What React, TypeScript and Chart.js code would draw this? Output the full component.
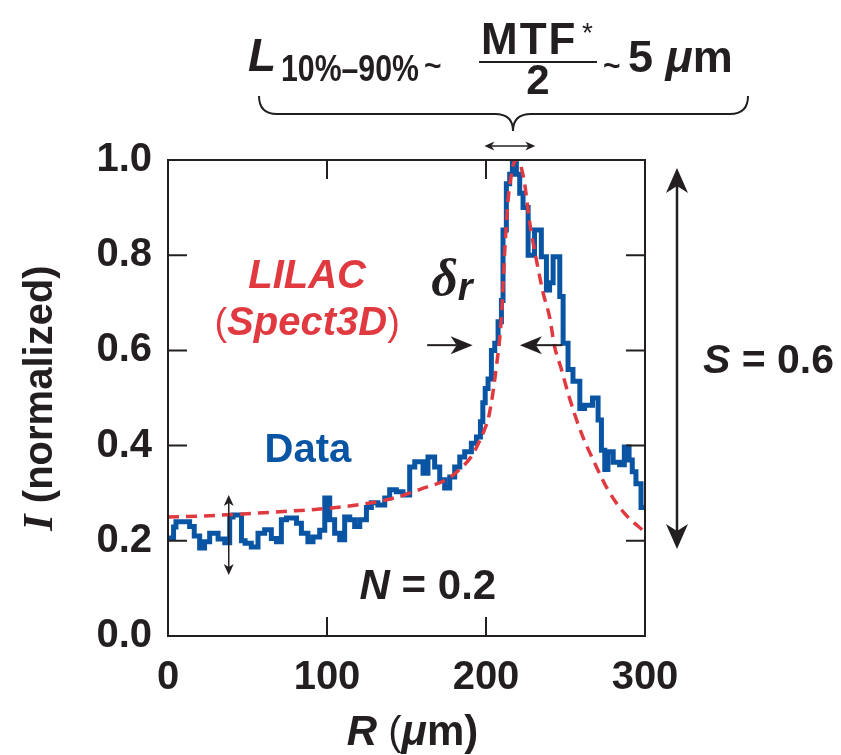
import React, { useEffect, useRef } from 'react';
import { Chart, registerables } from 'chart.js';
Chart.register(...registerables);

// Measured profile (blue, stepped): R in µm, I normalized
const R_DATA = [0, 3.5, 5, 13.6, 16.5, 19.9, 23, 26.2, 31.5, 35.7, 38.8, 40.9, 46.2, 48.5, 52.4, 56.6, 60.8, 65, 68.2, 71.3, 74.5, 80.8, 83.9, 88, 91.2, 95.4, 98.6, 101.7, 104.8, 108, 111.1, 114.3, 117.4, 120.6, 124.8, 127.9, 132, 136.3, 139.4, 143.6, 147.8, 152, 155.2, 160.4, 163.5, 167.7, 170.9, 174, 177.2, 180.3, 183.5, 186.6, 190.8, 194, 196.5, 198, 199.5, 201.3, 203.4, 205.5, 207.6, 209.7, 210.7, 212.8, 214.9, 216.6, 219.1, 221.2, 223.3, 226.5, 230.5, 234.8, 238, 240, 242.2, 246.4, 248.5, 251.6, 254.7, 259, 262, 267, 270.5, 272.6, 274.7, 276.7, 280, 284, 287, 290, 292, 294.3, 297.5, 300];
const I_DATA = [0.206, 0.229, 0.24, 0.23, 0.21, 0.185, 0.198, 0.216, 0.204, 0.196, 0.25, 0.254, 0.2, 0.195, 0.187, 0.216, 0.223, 0.205, 0.198, 0.244, 0.248, 0.237, 0.216, 0.198, 0.208, 0.222, 0.29, 0.244, 0.216, 0.202, 0.25, 0.244, 0.23, 0.244, 0.27, 0.28, 0.275, 0.29, 0.307, 0.303, 0.296, 0.355, 0.366, 0.342, 0.376, 0.355, 0.328, 0.311, 0.334, 0.355, 0.376, 0.387, 0.405, 0.418, 0.45, 0.49, 0.52, 0.54, 0.6, 0.615, 0.66, 0.705, 0.853, 0.95, 0.97, 1.0, 0.97, 0.93, 0.9, 0.8, 0.853, 0.797, 0.727, 0.742, 0.797, 0.713, 0.615, 0.56, 0.535, 0.478, 0.485, 0.5, 0.454, 0.39, 0.35, 0.387, 0.365, 0.36, 0.397, 0.37, 0.345, 0.32, 0.27, 0.27];

// LILAC (Spect3D) model (red, dashed)
const R_MODEL = [0, 20, 40, 60, 80, 100, 120, 140, 161, 176, 185, 191, 196, 199, 202, 206.5, 209.7, 211.8, 213.9, 216, 218.5, 220.5, 222.5, 224.3, 227.5, 231.7, 236, 240, 243.2, 247, 252.5, 260, 268.4, 276.7, 287, 300];
const I_MODEL = [0.25, 0.252, 0.255, 0.259, 0.263, 0.268, 0.276, 0.288, 0.311, 0.33, 0.355, 0.378, 0.41, 0.433, 0.465, 0.565, 0.67, 0.81, 0.916, 0.97, 1.0, 1.0, 0.98, 0.95, 0.868, 0.79, 0.72, 0.67, 0.607, 0.565, 0.5, 0.426, 0.363, 0.307, 0.258, 0.218];

const X_TICKS = [0, 100, 200, 300];
const Y_TICKS = [0, 0.2, 0.4, 0.6, 0.8, 1.0];

const BLUE = '#0a54a4';
const RED = '#e03a40';
const INK = '#231f20';
const SANS = '"Liberation Sans", Arial, Helvetica, sans-serif';
const SERIF = '"Liberation Serif", "Times New Roman", serif';

type Run = { t: string; f: string; dy?: number; c?: string; ls?: number; sx?: number };

function drawRuns(ctx: CanvasRenderingContext2D, runs: Run[], x: number, y: number, align: 'left' | 'center' = 'left', color = INK) {
  ctx.save();
  ctx.textBaseline = 'alphabetic';
  ctx.textAlign = 'left';
  let total = 0;
  const widths = runs.map((r) => {
    ctx.font = r.f;
    (ctx as any).letterSpacing = `${r.ls || 0}px`;
    const w = ctx.measureText(r.t).width * (r.sx || 1);
    total += w;
    return w;
  });
  let cx = align === 'center' ? x - total / 2 : x;
  runs.forEach((r, i) => {
    ctx.font = r.f;
    (ctx as any).letterSpacing = `${r.ls || 0}px`;
    ctx.fillStyle = r.c || color;
    ctx.save();
    ctx.translate(cx, y + (r.dy || 0));
    ctx.scale(r.sx || 1, 1);
    ctx.fillText(r.t, 0, 0);
    ctx.restore();
    cx += widths[i];
  });
  (ctx as any).letterSpacing = '0px';
  ctx.restore();
}

function arrowHead(ctx: CanvasRenderingContext2D, tx: number, ty: number, dx: number, dy: number, len: number, hw: number, notch: number) {
  const px = -dy, py = dx;
  const bx = tx - dx * len, by = ty - dy * len;
  ctx.beginPath();
  ctx.moveTo(tx, ty);
  ctx.lineTo(bx + px * hw, by + py * hw);
  ctx.lineTo(tx - dx * (len - notch), ty - dy * (len - notch));
  ctx.lineTo(bx - px * hw, by - py * hw);
  ctx.closePath();
  ctx.fill();
}

function arrow(ctx: CanvasRenderingContext2D, x1: number, y1: number, x2: number, y2: number, lw: number, len: number, hw: number, notch: number, both: boolean) {
  const L = Math.hypot(x2 - x1, y2 - y1);
  const dx = (x2 - x1) / L, dy = (y2 - y1) / L;
  ctx.save();
  ctx.strokeStyle = INK;
  ctx.fillStyle = INK;
  ctx.lineWidth = lw;
  ctx.beginPath();
  const sx = both ? x1 + dx * (len - notch) : x1;
  const sy = both ? y1 + dy * (len - notch) : y1;
  ctx.moveTo(sx, sy);
  ctx.lineTo(x2 - dx * (len - notch), y2 - dy * (len - notch));
  ctx.stroke();
  arrowHead(ctx, x2, y2, dx, dy, len, hw, notch);
  if (both) arrowHead(ctx, x1, y1, -dx, -dy, len, hw, notch);
  ctx.restore();
}

const annotations = {
  id: 'annotations',
  afterDraw(chart: any) {
    const ctx: CanvasRenderingContext2D = chart.ctx;
    const { left, right, top, bottom } = chart.chartArea;
    const xs = chart.scales.x, ys = chart.scales.y;
    const X = (v: number) => xs.getPixelForValue(v);
    const Y = (v: number) => ys.getPixelForValue(v);

    // frame
    ctx.save();
    ctx.strokeStyle = INK;
    ctx.lineWidth = 2;
    ctx.strokeRect(left, top, right - left, bottom - top);
    // inward ticks
    const tl = 19;
    ctx.beginPath();
    ys.ticks.forEach((t: any) => {
      if (t.value <= 0 || t.value >= 1) return;
      const py = Y(t.value);
      ctx.moveTo(left, py); ctx.lineTo(left + tl, py);
      ctx.moveTo(right, py); ctx.lineTo(right - tl, py);
    });
    xs.ticks.forEach((t: any) => {
      if (t.value <= 0 || t.value >= 300) return;
      const px = X(t.value);
      ctx.moveTo(px, bottom); ctx.lineTo(px, bottom - tl);
      ctx.moveTo(px, top); ctx.lineTo(px, top + tl);
    });
    ctx.stroke();
    ctx.restore();

    // axis titles
    ctx.save();
    ctx.translate(52, (top + bottom) / 2);
    ctx.rotate(-Math.PI / 2);
    drawRuns(ctx, [
      { t: 'I', f: `italic bold 42px ${SERIF}` },
      { t: ' (normalized)', f: `bold 40px ${SANS}` },
    ], 0, 0, 'center');
    ctx.restore();
    drawRuns(ctx, [
      { t: 'R', f: `italic bold 42px ${SANS}` },
      { t: ' (', f: `40px ${SANS}` },
      { t: 'μ', f: `italic bold 42px ${SANS}` },
      { t: 'm)', f: `bold 42px ${SANS}` },
    ], (left + right) / 2 + 6, 745, 'center');

    // in-plot labels
    drawRuns(ctx, [{ t: 'LILAC', f: `italic bold 40px ${SANS}` }], X(87.5), Y(0.731), 'center', RED);
    drawRuns(ctx, [
      { t: '(', f: `38px ${SANS}` },
      { t: 'Spect3D', f: `italic bold 40px ${SANS}` },
      { t: ')', f: `38px ${SANS}` },
    ], X(87.5), Y(0.632), 'center', RED);
    drawRuns(ctx, [{ t: 'Data', f: `bold 40px ${SANS}` }], X(88), Y(0.366), 'center', BLUE);

    drawRuns(ctx, [
      { t: 'δ', f: `italic bold 52px ${SERIF}` },
      { t: 'r', f: `italic bold 38px ${SANS}`, dy: 5 },
    ], X(165.5), Y(0.716), 'left');

    drawRuns(ctx, [
      { t: 'N', f: `italic bold 42px ${SANS}` },
      { t: ' = 0.2', f: `bold 42px ${SANS}` },
    ], X(120.5), Y(0.078), 'left');

    drawRuns(ctx, [
      { t: 'S', f: `italic bold 41px ${SANS}` },
      { t: ' = 0.6', f: `bold 41px ${SANS}` },
    ], right + 58, Y(0.553), 'left');

    // arrows
    arrow(ctx, X(163), Y(0.611), X(191.6), Y(0.611), 2, 22, 9, 6, false);
    arrow(ctx, X(248), Y(0.611), X(221.3), Y(0.611), 2, 22, 9, 6, false);
    arrow(ctx, X(38.2), Y(0.296), X(38.2), Y(0.128), 1.5, 11, 5, 3, true);
    arrow(ctx, right + 32, Y(0.983), right + 32, Y(0.183), 2.5, 25, 11, 7, true);
    arrow(ctx, X(199), top - 14, X(231), top - 14, 1.3, 10, 4.5, 3, true);

    // brace
    ctx.save();
    ctx.strokeStyle = INK;
    ctx.lineWidth = 2;
    ctx.beginPath();
    ctx.moveTo(259, 96);
    ctx.quadraticCurveTo(259, 114, 277, 114);
    ctx.lineTo(495, 114);
    ctx.quadraticCurveTo(513, 114, 513, 131);
    ctx.quadraticCurveTo(513, 114, 531, 114);
    ctx.lineTo(730, 114);
    ctx.quadraticCurveTo(748, 114, 748, 96);
    ctx.stroke();
    ctx.restore();

    // formula
    drawRuns(ctx, [{ t: 'L', f: `italic bold 46px ${SANS}` }], 248, 71);
    drawRuns(ctx, [{ t: '10%–90%', f: `bold 36px ${SANS}`, sx: 0.84 }], 281, 81);
    drawRuns(ctx, [{ t: '~', f: `bold 30px ${SANS}` }], 424, 76);
    drawRuns(ctx, [{ t: 'MTF', f: `bold 44px ${SANS}`, ls: 2 }], 481, 54);
    drawRuns(ctx, [{ t: '*', f: `28px ${SANS}` }], 582, 42);
    ctx.save();
    ctx.strokeStyle = INK;
    ctx.lineWidth = 2;
    ctx.beginPath();
    ctx.moveTo(479, 62);
    ctx.lineTo(597, 62);
    ctx.stroke();
    ctx.restore();
    drawRuns(ctx, [{ t: '2', f: `bold 42px ${SANS}` }], 538, 94, 'center');
    drawRuns(ctx, [{ t: '~', f: `bold 30px ${SANS}` }], 603, 76);
    drawRuns(ctx, [
      { t: '5 ', f: `bold 45px ${SANS}` },
      { t: 'μ', f: `italic bold 45px ${SANS}` },
      { t: 'm', f: `bold 45px ${SANS}`, ls: 1 },
    ], 628, 72);
  },
};

export default function App() {
  const ref = useRef<HTMLCanvasElement>(null);
  useEffect(() => {
    document.body.style.margin = '0';
    const tickFont = { family: SANS, size: 40, weight: 'bold' as const };
    const chart = new Chart(ref.current as HTMLCanvasElement, {
      type: 'line',
      data: {
        datasets: [
          {
            label: 'LILAC (Spect3D)',
            data: R_MODEL.map((r, i) => ({ x: r, y: I_MODEL[i] })),
            borderColor: RED,
            borderWidth: 3.5,
            borderDash: [11, 7],
            pointRadius: 0,
            cubicInterpolationMode: 'monotone',
            fill: false,
          },
          {
            label: 'Data',
            data: R_DATA.map((r, i) => ({ x: r, y: I_DATA[i] })),
            borderColor: BLUE,
            borderWidth: 5,
            stepped: true,
            pointRadius: 0,
            fill: false,
          },
        ],
      },
      options: {
        responsive: false,
        animation: false,
        events: [],
        layout: { padding: { left: 0, right: 196, top: 160, bottom: 0 } },
        plugins: { legend: { display: false }, tooltip: { enabled: false } },
        scales: {
          x: {
            type: 'linear',
            min: 0,
            max: 300,
            afterBuildTicks: (s: any) => { s.ticks = X_TICKS.map((v) => ({ value: v })); },
            afterFit: (s: any) => { s.height = 119; },
            grid: { display: false, drawTicks: false },
            border: { display: false },
            ticks: { font: tickFont, color: INK, padding: 18, maxRotation: 0, callback: (v: any) => String(v) },
          },
          y: {
            type: 'linear',
            min: 0,
            max: 1,
            afterBuildTicks: (s: any) => { s.ticks = Y_TICKS.map((v) => ({ value: v })); },
            afterFit: (s: any) => { s.width = 168; },
            grid: { display: false, drawTicks: false },
            border: { display: false },
            ticks: { font: tickFont, color: INK, padding: 16, callback: (v: any) => Number(v).toFixed(1) },
          },
        },
      },
      plugins: [annotations],
    });
    return () => chart.destroy();
  }, []);
  return <canvas ref={ref} width={841} height={755} style={{ display: 'block' }} />;
}
